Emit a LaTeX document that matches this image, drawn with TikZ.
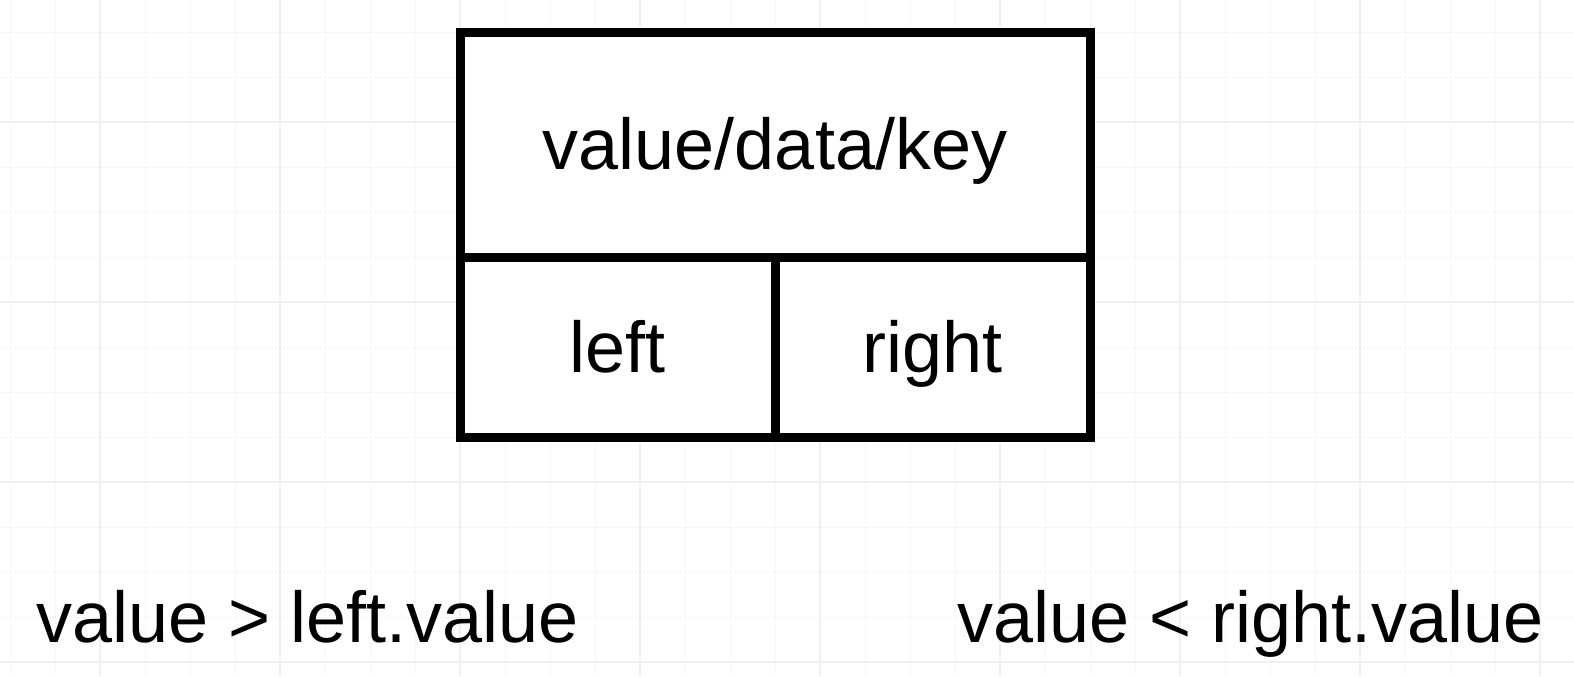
\documentclass[tikz,border=0pt]{standalone}
\usepackage{fontspec}
\setmainfont{Liberation Sans}
\usetikzlibrary{positioning}
\tikzstyle{cell} = [rectangle, draw = black, line width = 4.5pt, fill = white, inner sep = 0pt, outer sep = 0pt, text centered, text height = 32pt, text depth = 7.5pt, font = \fontsize{36}{43}\selectfont]
\tikzstyle{cond} = [inner sep = 0pt, font = \fontsize{36}{43}\selectfont]
\tikzstyle{minorline} = [draw = black!3, line width = 0.5pt]
\tikzstyle{majorline} = [draw = black!6, line width = 0.6pt]

\begin{document}
\begin{tikzpicture}[x = 0.5pt, y = -0.5pt]
	\useasboundingbox (0,0) rectangle (1574,676);
	\fill[white] (0,0) rectangle (1574,676);
	% background grid
	\foreach \x in {10,55,...,1540} \draw[minorline] (\x,0) -- (\x,676);
	\foreach \y in {32,77,...,662} \draw[minorline] (0,\y) -- (1574,\y);
	\foreach \x in {100,280,...,1540} \draw[majorline] (\x,0) -- (\x,676);
	\foreach \y in {122,302,...,662} \draw[majorline] (0,\y) -- (1574,\y);

	\node (key)[cell, minimum width = 315pt, minimum height = 112.75pt] at (775,144.75) {value/data/key};
	\node (left)[cell, anchor = north west, minimum width = 157.5pt, minimum height = 90pt] at (key.south west) {left};
	\node (right)[cell, anchor = north east, minimum width = 157.5pt, minimum height = 90pt] at (key.south east) {right};

	\node (gt)[cond, anchor = base west] at (36,642) {value > left.value};
	\node (lt)[cond, anchor = base west] at (957,642) {value < right.value};
\end{tikzpicture}
\end{document}
